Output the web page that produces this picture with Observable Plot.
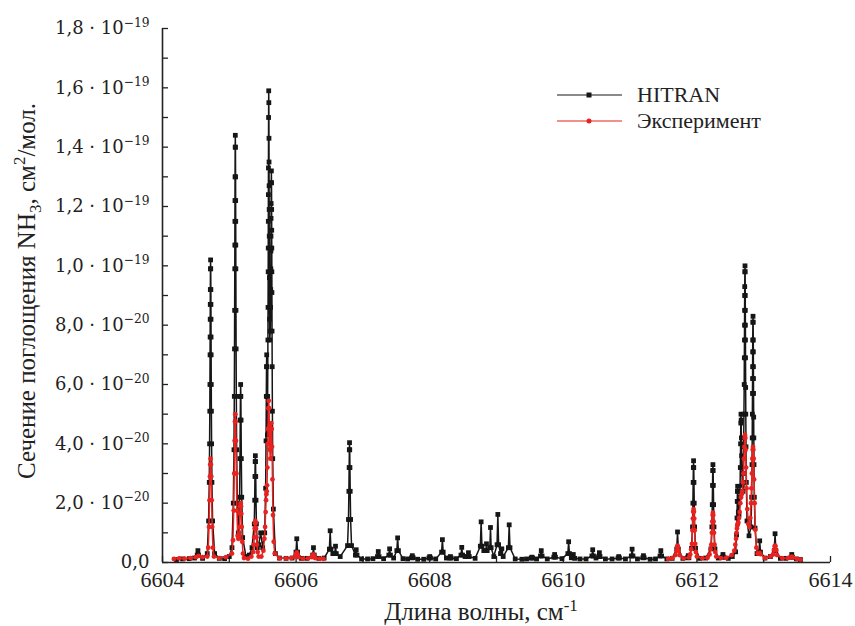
<!DOCTYPE html>
<html><head><meta charset="utf-8">
<script src="https://cdn.jsdelivr.net/npm/d3@7"></script>
<script src="https://cdn.jsdelivr.net/npm/@observablehq/plot@0.6"></script>
<style>body{margin:0;background:#fff;} #chart{width:855px;height:626px;}</style>
</head><body><div id="chart"></div>
<script>
// ---- data (y in units of 1e-20 cm^2/mol) ----
const xTickValues = [6604, 6606, 6608, 6610, 6612, 6614];
const xTickMarks = [6604, 6605, 6606, 6607, 6608, 6609, 6610, 6611, 6612, 6613, 6614];
const yTickValues = [0, 2, 4, 6, 8, 10, 12, 14, 16, 18];
const yTickMarks = [0,1,2,3,4,5,6,7,8,9,10,11,12,13,14,15,16,17,18];
const yTickLabels = ["0,0", "2,0 · 10^{−20}", "4,0 · 10^{−20}", "6,0 · 10^{−20}", "8,0 · 10^{−20}",
  "1,0 · 10^{−19}", "1,2 · 10^{−19}", "1,4 · 10^{−19}", "1,6 · 10^{−19}", "1,8 · 10^{−19}"];
const seriesNames = ["HITRAN", "Эксперимент"];
const xTitle = "Длина волны, см^{-1}";
const yTitle = "Сечение поглощения NH_{3}, см^{2}/мол.";

const hitran = [
[6604.21,0.1],[6604.30,0.12],[6604.40,0.13],[6604.48,0.15],
[6604.52,0.25],[6604.53,0.4],[6604.54,0.25],[6604.60,0.14],[6604.67,0.3],
[6604.69,1.4],[6604.70,2.7],[6604.705,4.0],[6604.708,5.1],[6604.71,6.0],[6604.712,7.0],[6604.713,7.6],[6604.714,8.2],[6604.715,8.7],[6604.716,9.2],[6604.718,9.9],[6604.72,10.2],
[6604.722,9.9],[6604.724,9.2],[6604.725,8.7],[6604.726,8.2],[6604.727,7.6],[6604.728,7.0],[6604.73,6.0],[6604.732,5.1],[6604.735,4.0],[6604.74,2.7],[6604.75,1.4],
[6604.78,0.3],[6604.85,0.14],[6604.93,0.13],[6605.00,0.2],[6605.04,0.5],
[6605.06,2.0],[6605.07,3.8],[6605.075,5.6],[6605.078,7.2],[6605.08,8.5],[6605.082,9.9],[6605.083,10.7],[6605.084,11.5],[6605.085,12.2],[6605.086,13.0],[6605.088,14.0],[6605.09,14.4],
[6605.092,14.0],[6605.094,13.0],[6605.095,12.2],[6605.096,11.5],[6605.097,10.7],[6605.098,9.9],[6605.10,8.5],[6605.102,7.2],[6605.105,5.6],[6605.11,3.8],[6605.12,2.0],
[6605.135,1.0],[6605.154,2.2],[6605.16,3.5],[6605.164,4.8],[6605.167,5.6],[6605.17,6.0],[6605.173,5.6],[6605.176,4.8],[6605.18,3.5],[6605.186,2.2],[6605.20,0.84],
[6605.25,0.2],[6605.30,0.25],[6605.34,0.5],
[6605.374,1.3],[6605.38,2.1],[6605.384,2.9],[6605.387,3.4],[6605.39,3.6],[6605.393,3.4],[6605.396,2.9],[6605.40,2.1],[6605.406,1.3],[6605.42,0.5],
[6605.44,0.6],[6605.47,1.0],[6605.50,0.5],
[6605.530,1.0],[6605.544,2.5],[6605.550,4.1],[6605.554,5.6],[6605.557,6.6],[6605.560,7.0],[6605.563,6.6],[6605.566,5.6],[6605.570,4.3],
[6605.574,5.6],[6605.578,7.5],[6605.580,8.6],[6605.582,9.8],[6605.583,10.6],[6605.584,11.5],[6605.585,12.4],[6605.586,13.3],[6605.588,15.0],[6605.590,15.9],
[6605.592,15.5],[6605.594,14.3],[6605.595,13.5],[6605.596,12.7],[6605.597,11.9],[6605.598,11.0],[6605.600,9.6],[6605.603,8.2],[6605.606,7.5],
[6605.614,7.8],[6605.618,8.6],[6605.620,9.2],[6605.622,9.9],[6605.623,10.5],[6605.624,11.0],[6605.625,11.6],[6605.626,12.1],[6605.628,12.8],[6605.630,13.2],
[6605.632,12.8],[6605.634,11.9],[6605.635,11.2],[6605.636,10.6],[6605.637,9.8],[6605.638,9.1],[6605.640,7.8],[6605.642,6.6],[6605.645,5.1],[6605.650,3.5],[6605.660,1.8],[6605.690,0.3],
[6605.75,0.15],[6605.85,0.14],[6605.94,0.15],
[6605.998,0.35],[6606.01,0.8],[6606.022,0.35],[6606.08,0.14],[6606.16,0.14],
[6606.248,0.25],[6606.26,0.5],[6606.272,0.25],[6606.34,0.14],[6606.42,0.15],
[6606.498,0.45],[6606.51,1.07],[6606.522,0.45],[6606.55,0.3],
[6606.578,0.3],[6606.59,0.55],[6606.602,0.3],[6606.66,0.2],
[6606.77,0.57],[6606.784,1.45],[6606.79,2.4],[6606.794,3.2],[6606.797,3.8],[6606.80,4.04],[6606.803,3.8],[6606.806,3.2],[6606.81,2.4],[6606.816,1.45],[6606.83,0.57],
[6606.888,0.25],[6606.90,0.43],[6606.912,0.25],[6606.98,0.12],[6607.07,0.12],[6607.15,0.13],
[6607.218,0.2],[6607.23,0.37],[6607.242,0.2],[6607.31,0.13],
[6607.388,0.25],[6607.40,0.46],[6607.412,0.25],[6607.46,0.15],
[6607.508,0.4],[6607.52,0.83],[6607.532,0.4],[6607.60,0.13],[6607.67,0.12],
[6607.728,0.16],[6607.74,0.23],[6607.752,0.16],[6607.82,0.11],[6607.91,0.11],
[6607.988,0.15],[6608.00,0.2],[6608.012,0.15],[6608.09,0.12],
[6608.178,0.35],[6608.19,0.77],[6608.202,0.35],[6608.25,0.15],
[6608.298,0.15],[6608.31,0.2],[6608.322,0.15],[6608.40,0.13],
[6608.468,0.25],[6608.48,0.51],[6608.492,0.25],[6608.53,0.2],
[6608.568,0.2],[6608.58,0.33],[6608.592,0.2],[6608.68,0.14],
[6608.758,0.55],[6608.77,1.37],[6608.782,0.55],[6608.81,0.4],
[6608.84,0.4],[6608.85,0.63],[6608.86,0.4],
[6608.90,0.5],[6608.91,1.18],[6608.92,0.5],[6608.96,0.2],
[6609.008,0.6],[6609.02,1.62],[6609.032,0.6],[6609.06,0.3],[6609.08,0.46],[6609.10,0.2],
[6609.178,0.5],[6609.19,1.27],[6609.202,0.5],[6609.28,0.12],[6609.38,0.11],[6609.45,0.12],
[6609.52,0.15],[6609.53,0.18],[6609.54,0.15],[6609.60,0.12],
[6609.658,0.22],[6609.67,0.4],[6609.682,0.22],[6609.76,0.12],
[6609.858,0.18],[6609.87,0.27],[6609.882,0.18],[6609.98,0.13],
[6610.068,0.3],[6610.08,0.7],[6610.092,0.3],[6610.12,0.16],[6610.15,0.27],[6610.17,0.14],
[6610.25,0.12],[6610.34,0.12],
[6610.428,0.22],[6610.44,0.43],[6610.452,0.22],[6610.49,0.15],
[6610.53,0.2],[6610.54,0.33],[6610.55,0.2],[6610.63,0.12],[6610.73,0.12],
[6610.82,0.15],[6610.83,0.2],[6610.84,0.15],[6610.93,0.12],
[6611.018,0.22],[6611.03,0.45],[6611.042,0.22],[6611.11,0.12],
[6611.19,0.16],[6611.20,0.23],[6611.21,0.16],[6611.30,0.11],[6611.38,0.12],
[6611.448,0.22],[6611.46,0.4],[6611.472,0.22],[6611.55,0.12],[6611.63,0.14],
[6611.698,0.45],[6611.71,1.03],[6611.722,0.45],[6611.79,0.14],
[6611.86,0.16],[6611.87,0.23],[6611.88,0.16],
[6611.92,0.48],[6611.934,1.2],[6611.94,2.0],[6611.944,2.7],[6611.947,3.2],[6611.95,3.43],[6611.953,3.2],[6611.956,2.7],[6611.96,2.0],[6611.966,1.2],[6611.98,0.48],
[6612.04,0.14],[6612.13,0.15],
[6612.21,0.46],[6612.224,1.2],[6612.23,1.95],[6612.234,2.6],[6612.237,3.1],[6612.24,3.3],[6612.243,3.1],[6612.246,2.6],[6612.25,1.95],[6612.256,1.2],[6612.27,0.46],
[6612.32,0.15],[6612.38,0.18],[6612.39,0.27],[6612.40,0.18],[6612.47,0.14],[6612.53,0.2],
[6612.58,0.36],[6612.594,0.93],[6612.600,1.5],[6612.604,2.06],[6612.607,2.4],[6612.610,2.57],[6612.613,2.4],[6612.616,2.06],[6612.620,1.7],[6612.630,1.6],
[6612.644,2.2],[6612.650,3.2],[6612.654,4.0],[6612.657,4.7],[6612.660,5.0],[6612.663,4.8],[6612.666,4.2],[6612.670,3.6],[6612.680,2.6],[6612.690,2.4],
[6612.695,3.0],[6612.700,3.9],[6612.704,5.0],[6612.708,6.0],[6612.710,6.9],[6612.712,7.5],[6612.713,8.0],[6612.714,8.5],[6612.715,9.0],[6612.716,9.3],[6612.718,9.8],[6612.720,10.0],
[6612.722,9.8],[6612.724,9.0],[6612.725,8.5],[6612.726,8.0],[6612.727,7.5],[6612.728,6.9],[6612.730,5.9],[6612.732,5.0],[6612.735,3.9],[6612.740,2.7],[6612.750,1.4],
[6612.780,0.9],[6612.810,1.2],[6612.820,2.2],[6612.825,3.3],[6612.828,4.2],[6612.830,5.0],[6612.832,5.7],[6612.833,6.2],[6612.834,6.6],[6612.835,7.1],[6612.836,7.5],[6612.838,8.1],[6612.840,8.3],
[6612.842,8.1],[6612.844,7.5],[6612.845,7.1],[6612.846,6.6],[6612.847,6.2],[6612.848,5.7],[6612.850,4.9],[6612.852,4.2],[6612.855,3.3],[6612.860,2.2],[6612.870,1.16],[6612.900,0.3],
[6612.928,0.35],[6612.94,0.73],[6612.952,0.35],[6613.02,0.15],[6613.10,0.2],
[6613.158,0.4],[6613.17,0.97],[6613.182,0.4],[6613.25,0.14],[6613.33,0.14],
[6613.41,0.18],[6613.42,0.27],[6613.43,0.18],[6613.49,0.12],[6613.55,0.1]
];

const experimentLeft = [
[6604.17,0.12],[6604.25,0.14],[6604.33,0.13],[6604.42,0.15],[6604.50,0.18],[6604.54,0.22],[6604.60,0.18],
[6604.67,0.2],[6604.685,0.5],[6604.696,1.2],[6604.704,2.1],[6604.71,2.9],[6604.715,3.3],[6604.72,3.5],[6604.725,3.3],[6604.73,2.9],[6604.736,2.1],[6604.744,1.2],[6604.755,0.5],[6604.77,0.2],
[6604.85,0.15],[6604.95,0.18],
[6605.04,0.3],[6605.055,0.75],[6605.066,1.75],[6605.074,3.0],[6605.08,4.1],[6605.085,4.75],[6605.09,5.0],[6605.095,4.75],[6605.10,4.1],[6605.106,3.0],[6605.114,1.75],[6605.125,0.9],
[6605.135,0.8],[6605.146,0.9],[6605.154,1.2],[6605.16,1.64],[6605.165,1.9],[6605.17,2.0],[6605.175,1.9],[6605.18,1.64],[6605.186,1.2],[6605.194,0.7],[6605.205,0.3],[6605.22,0.15],
[6605.28,0.13],[6605.33,0.2],
[6605.355,0.35],[6605.366,0.6],[6605.374,0.85],[6605.38,1.15],[6605.385,1.33],[6605.39,1.4],[6605.395,1.33],[6605.40,1.15],[6605.406,0.85],[6605.414,0.6],[6605.425,0.35],[6605.44,0.2],
[6605.48,0.2],
[6605.51,0.4],[6605.525,0.8],[6605.536,1.2],[6605.544,1.7],[6605.55,2.1],[6605.555,2.3],[6605.56,2.4],[6605.565,2.6],[6605.57,3.2],[6605.576,4.0],[6605.58,4.5],[6605.585,5.2],[6605.59,5.45],
[6605.595,5.2],[6605.60,4.6],[6605.606,3.8],[6605.614,3.5],[6605.62,3.9],[6605.625,4.5],[6605.63,4.7],[6605.635,4.5],[6605.64,3.9],[6605.646,2.8],[6605.654,1.6],[6605.665,0.7],[6605.68,0.3],
[6605.75,0.14],[6605.85,0.14],[6605.93,0.15],
[6605.985,0.2],[6605.998,0.27],[6606.01,0.34],[6606.022,0.27],[6606.035,0.18],
[6606.10,0.13],[6606.18,0.14],
[6606.235,0.18],[6606.248,0.22],[6606.26,0.27],[6606.272,0.22],[6606.285,0.15],
[6606.35,0.13],[6606.41,0.12]
];

const experimentRight = [
[6611.57,0.12],[6611.63,0.15],
[6611.68,0.25],[6611.695,0.4],[6611.705,0.53],[6611.71,0.57],[6611.715,0.53],[6611.725,0.4],[6611.74,0.25],
[6611.80,0.14],[6611.88,0.17],
[6611.90,0.27],[6611.915,0.45],[6611.926,0.63],[6611.934,1.08],[6611.94,1.48],[6611.945,1.71],[6611.95,1.8],[6611.955,1.71],[6611.96,1.48],[6611.966,1.08],[6611.974,0.63],[6611.985,0.35],[6612.00,0.2],
[6612.08,0.14],[6612.16,0.16],
[6612.19,0.27],[6612.205,0.45],[6612.216,0.6],[6612.224,1.0],[6612.23,1.38],[6612.235,1.6],[6612.24,1.68],[6612.245,1.6],[6612.25,1.38],[6612.256,1.0],[6612.264,0.6],[6612.275,0.35],[6612.29,0.2],
[6612.36,0.15],[6612.44,0.16],[6612.52,0.25],
[6612.56,0.4],[6612.575,0.6],[6612.586,0.8],[6612.594,1.0],[6612.60,1.15],[6612.605,1.25],[6612.61,1.3],[6612.615,1.3],[6612.62,1.35],[6612.63,1.5],[6612.64,1.7],[6612.65,2.0],[6612.66,2.2],[6612.67,2.3],
[6612.68,2.4],[6612.69,2.7],[6612.696,3.0],[6612.704,3.5],[6612.71,3.9],[6612.715,4.2],[6612.72,4.3],[6612.725,4.2],[6612.73,3.8],[6612.736,3.2],[6612.744,2.5],[6612.755,1.8],[6612.77,1.3],[6612.785,1.2],
[6612.80,1.5],[6612.81,2.0],[6612.816,2.5],[6612.824,3.0],[6612.83,3.5],[6612.835,3.8],[6612.84,3.9],[6612.845,3.8],[6612.85,3.5],[6612.856,2.8],[6612.864,2.0],[6612.875,1.1],[6612.89,0.5],[6612.91,0.3],
[6612.93,0.3],[6612.94,0.32],[6612.95,0.28],
[6613.02,0.15],[6613.10,0.2],
[6613.14,0.27],[6613.155,0.42],[6613.165,0.54],[6613.17,0.57],[6613.175,0.54],[6613.185,0.42],[6613.20,0.25],
[6613.28,0.14],[6613.36,0.15],[6613.40,0.17],[6613.42,0.2],[6613.44,0.17],[6613.50,0.12],[6613.55,0.1]
];

// ---- build ----
const W = 855, H = 626, mL = 162, mR = 25, mT = 28, mB = 64;
const BLACK = "#161616", RED = "#e8231f";
const hitranData = hitran.map(([x, y]) => ({x, y}));
const expData = [
  ...experimentLeft.map(([x, y]) => ({x, y, seg: "left"})),
  ...experimentRight.map(([x, y]) => ({x, y, seg: "right"}))
];

const plot = Plot.plot({
  width: W, height: H,
  marginLeft: mL, marginRight: mR, marginTop: mT, marginBottom: mB,
  style: {background: "#fff", color: "#222", fontFamily: "'Liberation Serif', serif", overflow: "visible"},
  x: {domain: [6604, 6614]},
  y: {domain: [0, 18]},
  marks: [
    Plot.ruleX([6604], {stroke: "#222", strokeWidth: 1.6}),
    Plot.ruleY([0], {stroke: "#222", strokeWidth: 1.6}),
    Plot.tickY(yTickMarks, {y: d => d, stroke: "#222", strokeWidth: 1.3, insetRight: (W - mL - mR) - 6}),
    Plot.tickX(xTickMarks, {x: d => d, stroke: "#222", strokeWidth: 1.3, insetTop: (H - mT - mB) - 6}),
    Plot.axisY({ticks: yTickValues, tickSize: 0, tickPadding: 13, label: null,
      tickFormat: d => yTickLabels[yTickValues.indexOf(d)],
      fontSize: 18, fontFamily: "'DejaVu Serif', serif"}),
    Plot.axisX({ticks: xTickValues, tickSize: 0, tickPadding: 9, label: null,
      tickFormat: d => String(d), fontSize: 22}),
    Plot.line(hitranData, {x: "x", y: "y", stroke: BLACK, strokeWidth: 1.5}),
    Plot.dot(hitranData, {x: "x", y: "y", symbol: "square", r: 2.7, fill: BLACK}),
    Plot.line(expData, {x: "x", y: "y", z: "seg", stroke: RED, strokeWidth: 1.5}),
    Plot.dot(expData, {x: "x", y: "y", r: 2.4, fill: RED})
  ]
});
document.getElementById("chart").appendChild(plot);

// rich text: ^{...} superscript, _{...} subscript
function rich(sel, str, fs, supShift = 0.42) {
  sel.text(null);
  const parts = str.split(/(\^\{[^}]*\}|_\{[^}]*\})/).filter(p => p);
  let shift = 0;
  for (const p of parts) {
    if (p.startsWith("^{")) {
      sel.append("tspan").attr("dy", -supShift * fs).attr("font-size", 0.68 * fs).text(p.slice(2, -1));
      shift = supShift * fs;
    } else if (p.startsWith("_{")) {
      sel.append("tspan").attr("dy", 0.25 * fs).attr("font-size", 0.68 * fs).text(p.slice(2, -1));
      shift = -0.25 * fs;
    } else {
      sel.append("tspan").attr("dy", shift).text(p);
      shift = 0;
    }
  }
}

const svg = d3.select(plot);
svg.selectAll('g[aria-label="y-axis tick label"] text').each(function() {
  const t = d3.select(this);
  rich(t, t.text(), 18);
});

// axis titles
const xt = svg.append("text").attr("x", 481).attr("y", 620).attr("text-anchor", "middle")
  .attr("font-family", "'Liberation Serif', serif").attr("font-size", 25).attr("fill", "#222");
rich(xt, xTitle, 25, 0.36);
const yt = svg.append("text").attr("transform", "translate(35,291) rotate(-90)").attr("text-anchor", "middle")
  .attr("font-family", "'Liberation Serif', serif").attr("font-size", 25).attr("fill", "#222");
rich(yt, yTitle, 25);

// legend
const lg = svg.append("g");
const legendRows = [{name: seriesNames[0], color: BLACK, sym: "square", y: 95},
                    {name: seriesNames[1], color: RED, sym: "circle", y: 121}];
for (const r of legendRows) {
  lg.append("line").attr("x1", 557).attr("x2", 622).attr("y1", r.y).attr("y2", r.y)
    .attr("stroke", r.color).attr("stroke-width", 1.2);
  if (r.sym === "square") lg.append("rect").attr("x", 586.5).attr("y", r.y - 2.5).attr("width", 5).attr("height", 5).attr("fill", r.color);
  else lg.append("circle").attr("cx", 589).attr("cy", r.y).attr("r", 2.5).attr("fill", r.color);
  lg.append("text").attr("x", 637).attr("y", r.y + 7).attr("text-anchor", "start")
    .attr("font-family", "'Liberation Serif', serif")
    .attr("font-size", 22).attr("fill", "#222").text(r.name);
}
</script></body></html>
